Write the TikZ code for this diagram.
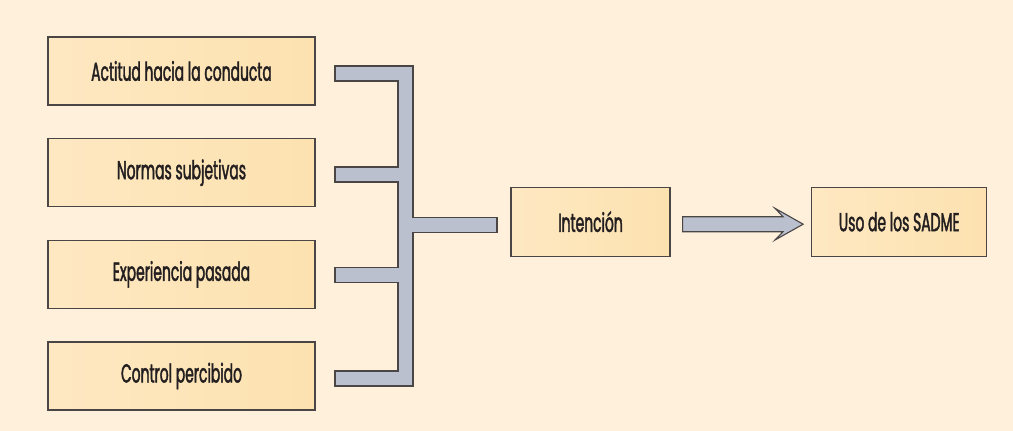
\documentclass[tikz,border=0pt]{standalone}
\usepackage{fontspec}
\usetikzlibrary{calc}
\setmainfont[FakeStretch=0.535,FakeBold=1.6]{Poppins}
\definecolor{bgcream}{HTML}{FEF0DA}
\definecolor{boxfillL}{HTML}{FEE8C2}
\definecolor{boxfillR}{HTML}{FDE2B0}
\definecolor{bracketgray}{HTML}{BAC0CE}
\definecolor{edgegray}{HTML}{4A4646}
\definecolor{txt}{HTML}{231F20}
\tikzset{
  factorbox/.style={draw=edgegray, line width=1.1pt, left color=boxfillL, right color=boxfillR,
    inner sep=0pt, minimum width=267pt, minimum height=68pt, text=txt,
    font=\fontsize{26}{28}\selectfont},
  connshape/.style={draw=edgegray, line width=1.1pt, fill=bracketgray, line join=miter}
}
\begin{document}
\begin{tikzpicture}[x=1pt,y=-1pt]
\fill[bgcream] (0,0) rectangle (1013,431);
\useasboundingbox (0,0) rectangle (1013,431);
\node[factorbox] (a) at (181.5,71) {Actitud hacia la conducta};
\node[factorbox] (n) at (181.5,172.7) {Normas subjetivas};
\node[factorbox] (e) at (181.5,274.3) {Experiencia pasada};
\node[factorbox] (c) at (181.5,376) {Control percibido};
\node[factorbox, minimum width=159pt, minimum height=68.7pt] (i) at (590.5,221.7) {Intención};
\node[factorbox, minimum width=175pt, minimum height=68.7pt] (u) at (899.2,221.7) {Uso de los SADME};
% bracket joining the four factors to the intention
\draw[connshape] (335,66) -- (413,66) -- (413,217.5) -- (497,217.5) -- (497,232.5)
  -- (413,232.5) -- (413,386) -- (335,386) -- (335,371) -- (398,371) -- (398,282.3)
  -- (335,282.3) -- (335,267.3) -- (398,267.3) -- (398,182) -- (335,182) -- (335,167)
  -- (398,167) -- (398,81) -- (335,81) -- cycle;
% arrow from intention to use
\draw[connshape] ($(i.east)+(12,-5)$) -- (783,216.7) -- (775,208.3) -- ($(u.west)+(-8,2.5)$)
  -- (775,240) -- (783,231.7) -- ($(i.east)+(12,10)$) -- cycle;
\end{tikzpicture}
\end{document}
